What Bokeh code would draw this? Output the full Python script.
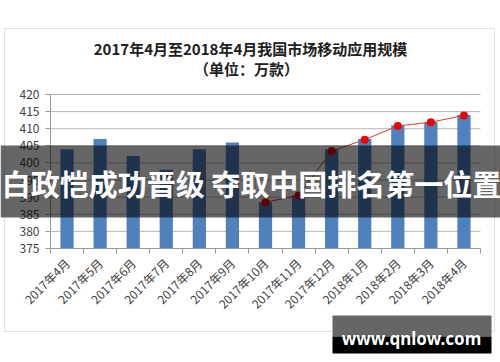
import numpy as np
from bokeh.plotting import figure
from bokeh.models import (ColumnDataSource, FixedTicker, Label, BoxAnnotation, Range1d, LinearAxis)
from bokeh.embed import file_html
from bokeh.resources import INLINE
from math import pi

months = ["2017年4月", "2017年5月", "2017年6月", "2017年7月", "2017年8月", "2017年9月",
          "2017年10月", "2017年11月", "2017年12月", "2018年1月", "2018年2月", "2018年3月", "2018年4月"]
bar_values = [404, 407, 402, 398, 404, 406, 388.5, 390.5, 404, 407, 411, 412, 414]
line_months = months[6:]
line_values = [388.5, 390.5, 403.5, 406.8, 410.8, 411.9, 413.9]
y_ticks = [375, 380, 385, 390, 395, 400, 405, 410, 415, 420]
title1 = "2017年4月至2018年4月我国市场移动应用规模"
title2 = "（单位：万款）"
banner = "白政恺成功晋级 夺取中国排名第一位置"
watermark = "www.qnlow.com"

CJK = "Noto Sans CJK SC"
W, H = 500, 362
# plot-area placement on the canvas (pixels)
PL, PR, PT, PB = 50, 480, 94, 248

n = len(months)
ymin, ymax = y_ticks[0], y_ticks[-1]
xc = np.arange(n) + 0.5
idx = {m: i for i, m in enumerate(months)}
lx = [idx[m] + 0.5 for m in line_months]

sx = (PR - PL) / n
sy = (PB - PT) / (ymax - ymin)
x_range = Range1d(-PL / sx, n + (W - PR) / sx)
y_range = Range1d(ymin - (H - PB) / sy, ymax + PT / sy)

p = figure(width=W, height=H, min_border=0, x_range=x_range, y_range=y_range,
           x_axis_location=None, y_axis_location=None,
           output_backend="svg", toolbar_location=None, tools="")
p.outline_line_color = None
p.background_fill_color = "white"
p.border_fill_color = "white"
p.xgrid.visible = False
p.ygrid.visible = False

# outer chart border
p.add_layout(BoxAnnotation(left=4, right=494, top=28, bottom=331,
                           left_units="canvas", right_units="canvas",
                           top_units="canvas", bottom_units="canvas",
                           fill_color=None, line_color="#A0A0A0", line_width=1, level="underlay"))

# horizontal grid lines
p.segment(x0=0, x1=n, y0=y_ticks, y1=y_ticks, line_color="#B8B8B8", line_width=1, level="underlay")

src = ColumnDataSource(dict(x=xc, top=bar_values))
p.vbar(x="x", top="top", bottom=ymin, width=0.4, source=src, fill_color="#4F81BD", line_color=None)

lsrc = ColumnDataSource(dict(x=lx, y=line_values))
p.line(x="x", y="y", source=lsrc, line_color="#E03838", line_width=1.0)
p.scatter(x="x", y="y", source=lsrc, size=8, fill_color="#F00000", line_color=None)

# axes
yaxis = LinearAxis(fixed_location=0, bounds=(ymin, ymax), ticker=FixedTicker(ticks=y_ticks))
yaxis.axis_line_color = "#999999"
yaxis.major_tick_line_color = "#999999"
yaxis.major_tick_out = 5
yaxis.major_tick_in = 0
yaxis.minor_tick_line_color = None
yaxis.major_label_text_font = CJK
yaxis.major_label_text_font_size = "12px"
yaxis.major_label_text_color = "#404040"
yaxis.major_label_standoff = 6
p.add_layout(yaxis, "left")

xaxis = LinearAxis(fixed_location=ymin, bounds=(0, n),
                   ticker=FixedTicker(ticks=list(xc), minor_ticks=list(range(n + 1))))
xaxis.major_label_overrides = {float(v): m for v, m in zip(xc, months)}
xaxis.major_tick_line_color = None
xaxis.minor_tick_line_color = "#999999"
xaxis.minor_tick_out = 5
xaxis.minor_tick_in = 0
xaxis.axis_line_color = "#999999"
xaxis.major_label_orientation = pi / 4
xaxis.major_label_text_font = CJK
xaxis.major_label_text_font_size = "12px"
xaxis.major_label_text_color = "#404040"
xaxis.major_label_standoff = 6
p.add_layout(xaxis, "below")

# titles (screen units, y measured up from bottom)
p.add_layout(Label(x=250, y=H - 48, x_units="screen", y_units="screen", text=title1,
                   text_font=CJK, text_font_style="bold", text_font_size="15px",
                   text_align="center", text_baseline="middle", text_color="#202020"))
p.add_layout(Label(x=246, y=H - 68, x_units="screen", y_units="screen", text=title2,
                   text_font=CJK, text_font_style="bold", text_font_size="15px",
                   text_align="center", text_baseline="middle", text_color="#202020"))

# banner overlay
p.add_layout(BoxAnnotation(left=0, right=W, top=145, bottom=217,
                           left_units="canvas", right_units="canvas",
                           top_units="canvas", bottom_units="canvas",
                           fill_color="black", fill_alpha=0.6, line_color=None, level="overlay"))
p.add_layout(Label(x=251, y=H - 182, x_units="screen", y_units="screen", text=banner,
                   text_font=CJK, text_font_style="bold", text_font_size="29px",
                   text_align="center", text_baseline="middle", text_color="white", level="overlay"))

# watermark
p.add_layout(BoxAnnotation(left=332, right=491, top=315, bottom=336,
                           left_units="canvas", right_units="canvas",
                           top_units="canvas", bottom_units="canvas",
                           fill_color="#666666", fill_alpha=1, line_color=None, level="overlay"))
p.add_layout(BoxAnnotation(left=332, right=491, top=336, bottom=353,
                           left_units="canvas", right_units="canvas",
                           top_units="canvas", bottom_units="canvas",
                           fill_color="black", fill_alpha=1, line_color=None, level="overlay"))
p.add_layout(Label(x=411, y=H - 338, x_units="screen", y_units="screen", text=watermark,
                   text_font="Noto Sans", text_font_style="bold", text_font_size="17px",
                   text_align="center", text_baseline="middle", text_color="white", level="overlay"))

open("out.html", "w").write(file_html(p, INLINE))
